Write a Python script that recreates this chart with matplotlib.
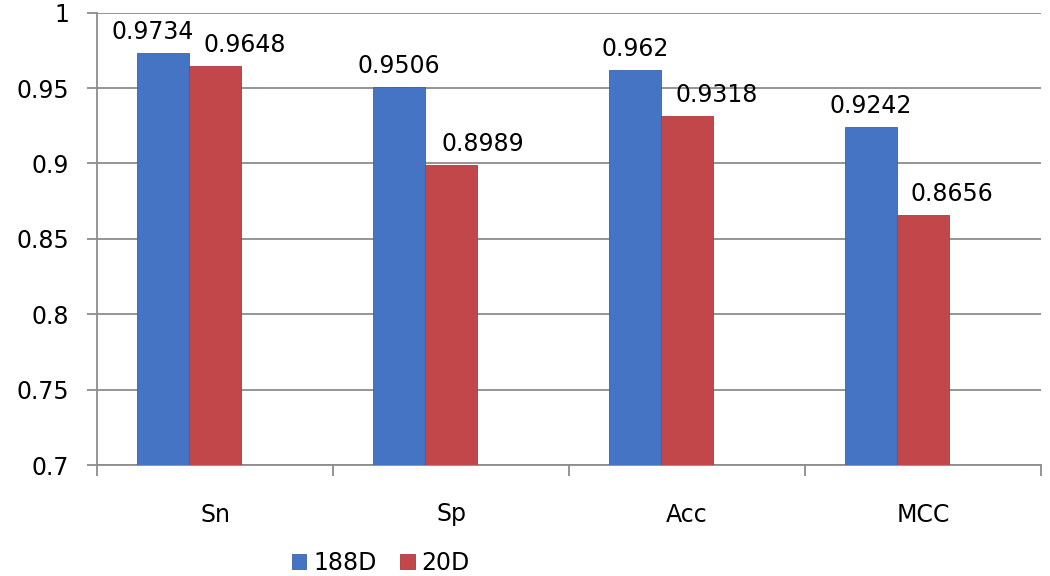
import matplotlib
matplotlib.use("Agg")
import matplotlib.pyplot as plt
import numpy as np

categories = ["Sn", "Sp", "Acc", "MCC"]
series_names = ["188D", "20D"]
values_188d = [0.9734, 0.9506, 0.962, 0.9242]
values_20d = [0.9648, 0.8989, 0.9318, 0.8656]
label_188d = ["0.9734", "0.9506", "0.962", "0.9242"]
label_20d = ["0.9648", "0.8989", "0.9318", "0.8656"]
yticks = [0.7, 0.75, 0.8, 0.85, 0.9, 0.95, 1.0]
ytick_labels = ["0.7", "0.75", "0.8", "0.85", "0.9", "0.95", "1"]

blue = "#4674C4"
red = "#C2474A"
grid_c = "#8C8C8C"
fs = 17

fig = plt.figure(figsize=(10.5, 5.76), dpi=100)
ax = fig.add_axes([97/1050, 1-465/576, (1041-97)/1050, (465-12.7)/576])

x = np.arange(len(categories))
w = 0.22
b1 = ax.bar(x - w, np.array(values_188d) - 0.7, w, bottom=0.7, color=blue,
            edgecolor="#3A62A8", linewidth=0.6, label=series_names[0], zorder=3)
b2 = ax.bar(x, np.array(values_20d) - 0.7, w, bottom=0.7, color=red,
            edgecolor="#A83C3A", linewidth=0.6, label=series_names[1], zorder=3)

off_blue = [-10, 0, 0, 0]
off_red = [30, 32, 30, 29]
for i in range(len(categories)):
    ax.annotate(label_188d[i], (x[i] - w, values_188d[i]), xytext=(off_blue[i], 9),
                textcoords="offset pixels", ha="center", va="bottom", fontsize=fs)
    ax.annotate(label_20d[i], (x[i], values_20d[i]), xytext=(off_red[i], 9),
                textcoords="offset pixels", ha="center", va="bottom", fontsize=fs)

ax.set_xlim(-0.5, len(categories) - 0.5)
ax.set_ylim(0.7, 1.0)
ax.set_yticks(yticks)
ax.set_yticklabels(ytick_labels, fontsize=fs)
ax.yaxis.grid(True, color=grid_c, linewidth=1.3, zorder=0)
ax.tick_params(axis="y", length=7, width=1.3, color=grid_c, pad=13)

ax.set_xticks(np.arange(len(categories) + 1) - 0.5)
ax.set_xticklabels([])
ax.tick_params(axis="x", which="major", length=8, width=1.3, color=grid_c)
ax.set_xticks(x, minor=True)
ax.set_xticklabels(categories, minor=True, fontsize=fs)
ax.tick_params(axis="x", which="minor", length=0, pad=27)

for s in ["top", "right"]:
    ax.spines[s].set_visible(False)
for s in ["left", "bottom"]:
    ax.spines[s].set_color(grid_c)
    ax.spines[s].set_linewidth(1.3)

fig.legend(handles=[b1, b2], labels=series_names, loc="center",
           bbox_to_anchor=(381/1050, 1-563/576), ncol=2, frameon=False,
           fontsize=fs, handlelength=0.6, handleheight=0.6, handletextpad=0.3,
           columnspacing=1.0)

fig.savefig("out.png", dpi=100)
